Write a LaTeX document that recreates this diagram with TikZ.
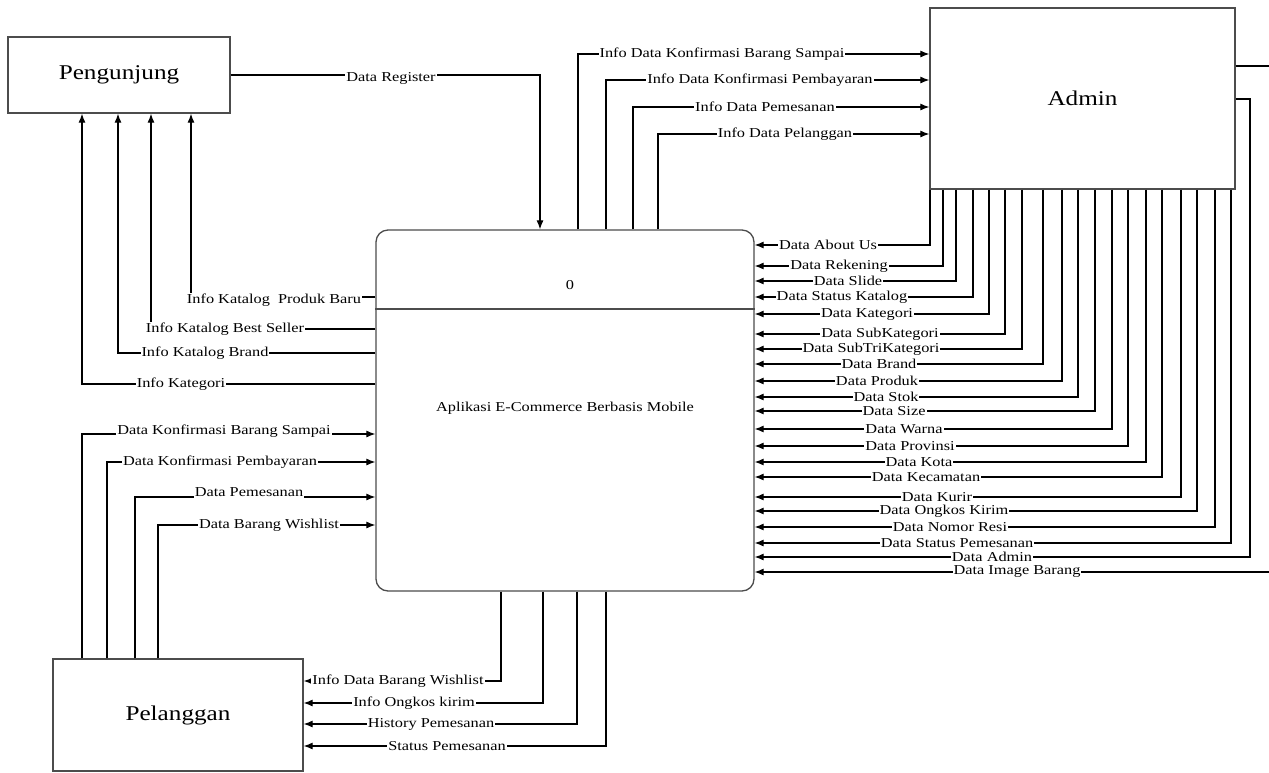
\documentclass[tikz,border=0pt]{standalone}
\usepackage{fontspec}
\setmainfont{Liberation Serif}
\newfontfamily\dfdfont{Liberation Serif}[FakeStretch=1.2]
\usetikzlibrary{arrows.meta}
\tikzset{
  entity/.style={draw=black!70,line width=1.3pt,font=\dfdfont\fontsize{21}{24}\selectfont},
  flow/.style={line width=1.1pt,line join=miter,-{Latex[length=9pt,width=7pt]}},
  lbl/.style={fill=white,inner sep=1pt,font=\dfdfont\fontsize{13.6}{15}\selectfont}
}
\begin{document}
\begin{tikzpicture}[x=1pt,y=-1pt]
  \useasboundingbox (0,0) rectangle (1269,772);
  \clip (0,0) rectangle (1269,772);
  % entitas dan proses
  \node[entity,minimum width=222pt,minimum height=76pt] (peng) at (119,75) {Pengunjung};
  \node[entity,minimum width=305pt,minimum height=181pt] (admin) at (1082.5,98.5) {Admin};
  \node[entity,minimum width=250pt,minimum height=112pt] (pel) at (178,715) {Pelanggan};
  \node[entity,rounded corners=12pt,minimum width=378pt,minimum height=361pt] (proc) at (565,410.5) {};
  \draw[draw=black!70,line width=1.3pt] (proc.west |- 0,309) -- (proc.east |- 0,309);
  \node[lbl,fill=none] (procNo) at (570,285) {0};
  \node[lbl,fill=none] (procName) at (565,408) {Aplikasi E-Commerce Berbasis Mobile};
  % pengunjung
  \draw[flow] (peng.east) -| (proc.north -| 540,0) node[lbl] (dRegister) at (391,78) {Data Register};
  \draw[flow] (proc.west |- 0,384) -| (peng.south -| 82,0) node[lbl] (iKategori) at (181,384) {Info Kategori};
  \draw[flow] (proc.west |- 0,353) -| (peng.south -| 118,0) node[lbl] (iBrand) at (205,353) {Info Katalog Brand};
  \draw[flow] (proc.west |- 0,329) -| (peng.south -| 151,0) node[lbl] (iBest) at (225,329) {Info Katalog Best Seller};
  \draw[flow] (proc.west |- 0,297) -| (peng.south -| 191,0) node[lbl] (iBaru) at (274,300) {Info Katalog\ \ Produk Baru};
  % admin (masuk)
  \draw[flow] (proc.north -| 578,0) |- (admin.west |- 0,54) node[lbl] (iKonfSampai) at (722,54) {Info Data Konfirmasi Barang Sampai};
  \draw[flow] (proc.north -| 606,0) |- (admin.west |- 0,80) node[lbl] (iKonfBayar) at (760,80) {Info Data Konfirmasi Pembayaran};
  \draw[flow] (proc.north -| 633,0) |- (admin.west |- 0,107) node[lbl] (iPesan) at (765,107) {Info Data Pemesanan};
  \draw[flow] (proc.north -| 658,0) |- (admin.west |- 0,134) node[lbl] (iPelanggan) at (785,134) {Info Data Pelanggan};
  % admin (keluar)
  \draw[flow] (admin.south -| 930,0) |- (proc.east |- 0,245) node[lbl] (dAbout) at (828,245) {Data About Us};
  \draw[flow] (admin.south -| 943,0) |- (proc.east |- 0,266) node[lbl] (dRekening) at (839,266) {Data Rekening};
  \draw[flow] (admin.south -| 956,0) |- (proc.east |- 0,281) node[lbl] (dSlide) at (848,281) {Data Slide};
  \draw[flow] (admin.south -| 973,0) |- (proc.east |- 0,297) node[lbl] (dStatusKat) at (842,297) {Data Status Katalog};
  \draw[flow] (admin.south -| 989,0) |- (proc.east |- 0,314) node[lbl] (dKategori) at (867,314) {Data Kategori};
  \draw[flow] (admin.south -| 1005,0) |- (proc.east |- 0,334) node[lbl] (dSubKat) at (880,334) {Data SubKategori};
  \draw[flow] (admin.south -| 1022,0) |- (proc.east |- 0,349) node[lbl] (dSubTri) at (871,349) {Data SubTriKategori};
  \draw[flow] (admin.south -| 1043,0) |- (proc.east |- 0,364) node[lbl] (dBrand) at (879,364) {Data Brand};
  \draw[flow] (admin.south -| 1062,0) |- (proc.east |- 0,381) node[lbl] (dProduk) at (877,381) {Data Produk};
  \draw[flow] (admin.south -| 1078,0) |- (proc.east |- 0,397) node[lbl] (dStok) at (886,397) {Data Stok};
  \draw[flow] (admin.south -| 1095,0) |- (proc.east |- 0,411) node[lbl] (dSize) at (894,411) {Data Size};
  \draw[flow] (admin.south -| 1112,0) |- (proc.east |- 0,429) node[lbl] (dWarna) at (904,429) {Data Warna};
  \draw[flow] (admin.south -| 1128,0) |- (proc.east |- 0,446) node[lbl] (dProvinsi) at (910,446) {Data Provinsi};
  \draw[flow] (admin.south -| 1146,0) |- (proc.east |- 0,462) node[lbl] (dKota) at (919,462) {Data Kota};
  \draw[flow] (admin.south -| 1162,0) |- (proc.east |- 0,477) node[lbl] (dKecamatan) at (926,477) {Data Kecamatan};
  \draw[flow] (admin.south -| 1181,0) |- (proc.east |- 0,497) node[lbl] (dKurir) at (937,497) {Data Kurir};
  \draw[flow] (admin.south -| 1197,0) |- (proc.east |- 0,511) node[lbl] (dOngkos) at (944,511) {Data Ongkos Kirim};
  \draw[flow] (admin.south -| 1215,0) |- (proc.east |- 0,527) node[lbl] (dResi) at (950,527) {Data Nomor Resi};
  \draw[flow] (admin.south -| 1231,0) |- (proc.east |- 0,543) node[lbl] (dStatusPsn) at (957,543) {Data Status Pemesanan};
  \coordinate (admCorner) at (1250,557);
  \coordinate (imgCorner) at (1285,572);
  \draw[flow] (admin.east |- 0,99) -| (admCorner) -- (proc.east |- admCorner) node[lbl] (dAdmin) at (992,557) {Data Admin};
  \draw[flow] (admin.east |- 0,66) -| (imgCorner) -- (proc.east |- imgCorner) node[lbl] (dImage) at (1017,572) {Data Image Barang};
  % pelanggan
  \draw[flow] (pel.north -| 82,0) |- (proc.west |- 0,434) node[lbl] (dKonfSampai) at (224,431) {Data Konfirmasi Barang Sampai};
  \draw[flow] (pel.north -| 107,0) |- (proc.west |- 0,462) node[lbl] (dKonfBayar) at (220,462) {Data Konfirmasi Pembayaran};
  \draw[flow] (pel.north -| 135,0) |- (proc.west |- 0,497) node[lbl] (dPesan) at (249,492) {Data Pemesanan};
  \draw[flow] (pel.north -| 158,0) |- (proc.west |- 0,525) node[lbl] (dWishlist) at (269,525) {Data Barang Wishlist};
  \draw[flow] (proc.south -| 501,0) |- (pel.east |- 0,681) node[lbl] (iWishlist) at (398,681) {Info Data Barang Wishlist};
  \draw[flow] (proc.south -| 543,0) |- (pel.east |- 0,703) node[lbl] (iOngkos) at (414,703) {Info Ongkos kirim};
  \draw[flow] (proc.south -| 577,0) |- (pel.east |- 0,724) node[lbl] (iHistory) at (431,724) {History Pemesanan};
  \draw[flow] (proc.south -| 606,0) |- (pel.east |- 0,746) node[lbl] (iStatus) at (447,746) {Status Pemesanan};
\end{tikzpicture}
\end{document}
